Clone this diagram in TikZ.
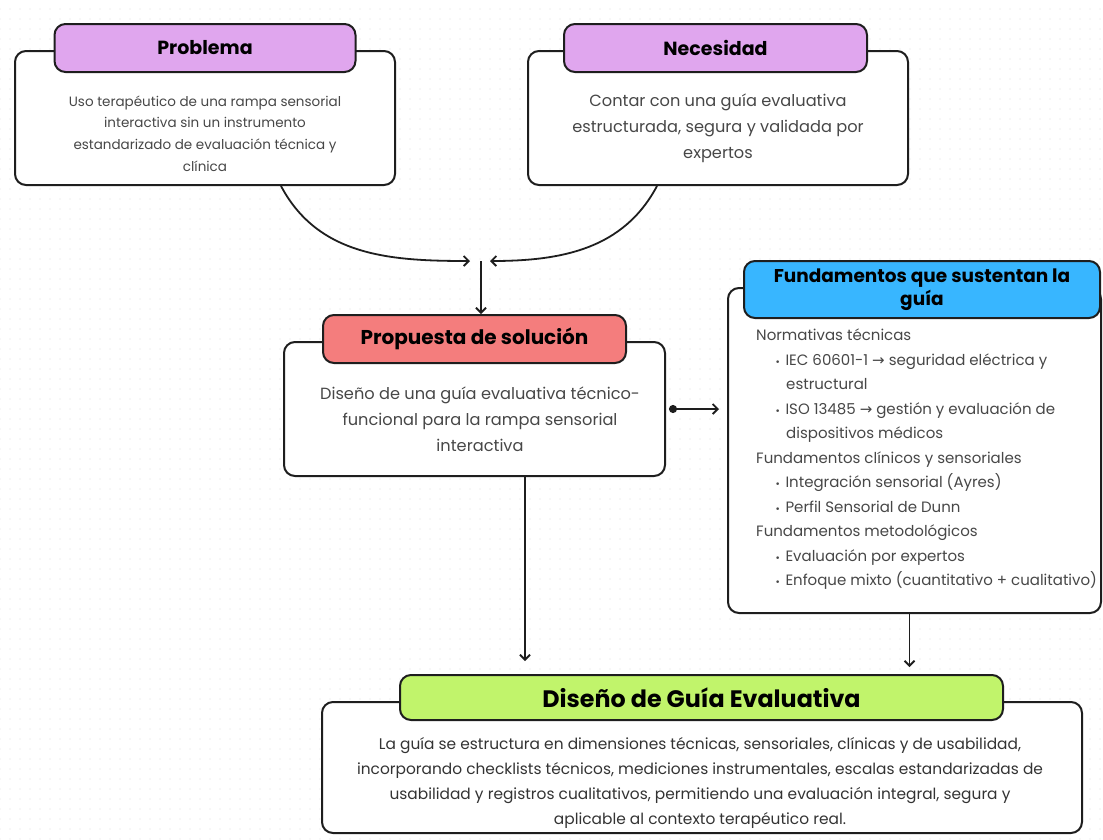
\documentclass[tikz,border=0pt]{standalone}
\usepackage{fontspec}
\setmainfont{Poppins}
\newfontfamily\symfont{DejaVu Sans}
\usetikzlibrary{arrows.meta,patterns.meta}

\definecolor{lilac}{HTML}{E0A6EE}
\definecolor{salmon}{HTML}{F47D7D}
\definecolor{sky}{HTML}{38B6FF}
\definecolor{lime}{HTML}{C1F46B}
\definecolor{ink}{HTML}{1E1E1E}

\newcommand{\itm}[1]{\hspace*{19pt}{\symfont\fontsize{9}{9}\selectfont •}\hspace{5pt}#1}
\newcommand{\cont}[1]{\hspace*{30pt}#1}
\newcommand{\arr}{{\symfont →}}

\tikzset{
  box/.style={draw=ink, line width=2pt, rounded corners=11pt, fill=white, inner sep=0pt},
  head/.style={box, font=\bfseries\fontsize{19}{23}\selectfont, align=center},
  txt/.style={inner sep=0pt, align=center, text=black!72},
  link/.style={draw=ink, line width=1.8pt, -{Straight Barb[length=5pt,width=10pt]}},
  dotlink/.style={link, {Circle[length=8pt]}-{Straight Barb[length=5pt,width=10pt]}},
  paper/.style={pattern={Dots[distance=10pt, radius=0.7pt]}, pattern color=black!12}
}

\begin{document}
\begin{tikzpicture}[x=1pt,y=-1pt]
\useasboundingbox[fill=white] (0,0) rectangle (1103,839);
% dotted paper
\fill[paper] (0,8) rectangle (1103,839);

% top row
\node[box, minimum width=380, minimum height=134] (probbody) at (205,118) {};
\node[head, fill=lilac, minimum width=301, minimum height=48] (probhead) at (205,48) {Problema};
\node[txt, font=\fontsize{13.5}{21.7}\selectfont] (probtxt) at (205,133.5) {Uso terapéutico de una rampa sensorial\\ interactiva sin un instrumento\\ estandarizado de evaluación técnica y\\ clínica};

\node[box, minimum width=380, minimum height=134] (necbody) at (718,118) {};
\node[head, fill=lilac, minimum width=303, minimum height=48] (nechead) at (715.5,48) {Necesidad};
\node[txt, font=\fontsize{16.2}{26}\selectfont] (nectxt) at (718,128) {Contar con una guía evaluativa\\ estructurada, segura y validada por\\ expertos};

\coordinate (merge) at (481,261);

% middle
\node[box, minimum width=381, minimum height=134] (propbody) at (474.5,409) {};
\node[head, fill=salmon, minimum width=303, minimum height=48, font=\bfseries\fontsize{20}{23}\selectfont] (prophead) at (474.5,339) {Propuesta de solución};
\node[txt, font=\fontsize{16.2}{26}\selectfont] (proptxt) at (480,419) {Diseño de una guía evaluativa técnico-\\ funcional para la rampa sensorial\\ interactiva};

\node[box, minimum width=373, minimum height=325] (fundbody) at (914.5,450.5) {};
\node[head, fill=sky, minimum width=356, minimum height=57, font=\bfseries\fontsize{18.5}{23}\selectfont] (fundhead) at (922,289.5) {Fundamentos que sustentan la\\ guía};
\node[txt, anchor=west, align=left, font=\fontsize{15}{24.5}\selectfont] (fundtxt) at (756,459.5) {Normativas técnicas\\
\itm{IEC 60601-1 \arr{} seguridad eléctrica y}\\
\cont{estructural}\\
\itm{ISO 13485 \arr{} gestión y evaluación de}\\
\cont{dispositivos médicos}\\
Fundamentos clínicos y sensoriales\\
\itm{Integración sensorial (Ayres)}\\
\itm{Perfil Sensorial de Dunn}\\
Fundamentos metodológicos\\
\itm{Evaluación por expertos}\\
\itm{Enfoque mixto (cuantitativo + cualitativo)}};

% bottom
\node[box, minimum width=760, minimum height=131] (guiabody) at (702,767.5) {};
\node[head, fill=lime, minimum width=603, minimum height=45, font=\fontsize{23.8}{26}\selectfont\bfseries] (guiahead) at (701.5,697.5) {Diseño de Guía Evaluativa};
\node[txt, text=black!80, font=\fontsize{15.4}{25}\selectfont] (guiatxt) at (700,782.5) {La guía se estructura en dimensiones técnicas, sensoriales, clínicas y de usabilidad,\\ incorporando checklists técnicos, mediciones instrumentales, escalas estandarizadas de\\ usabilidad y registros cualitativos, permitiendo una evaluación integral, segura y\\ aplicable al contexto terapéutico real.};

% connectors
\draw[link] ([xshift=76]probbody.south) to[out=-62, in=180] ([xshift=-11]merge);
\draw[link] ([xshift=-61]necbody.south) to[out=-118, in=0] ([xshift=9]merge);
\draw[link] (merge) -- (merge |- prophead.north);
\draw[dotlink, shorten <=3pt, shorten >=8pt] (propbody.east) -- (propbody.east -| fundbody.west);
\draw[link, shorten >=13pt] ([xshift=50.5]propbody.south) -- ([xshift=50.5]propbody.south |- guiahead.north);
\draw[link, shorten >=7pt] ([xshift=-5]fundbody.south) -- ([xshift=-5]fundbody.south |- guiahead.north);
\end{tikzpicture}
\end{document}
